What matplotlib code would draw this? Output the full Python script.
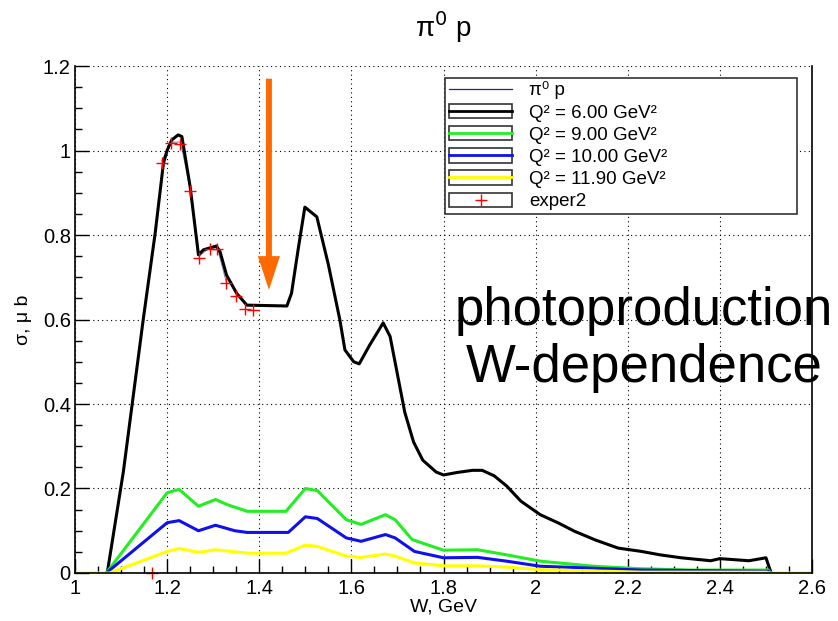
import numpy as np
import matplotlib.pyplot as plt
from matplotlib.lines import Line2D
from matplotlib.patches import Rectangle
from matplotlib.ticker import MultipleLocator

plt.rcParams['font.family'] = ['Liberation Sans', 'DejaVu Sans']

# Q2 = 6.00 GeV^2
w6 = [1.07, 1.105, 1.148, 1.174, 1.192, 1.20, 1.21, 1.224, 1.232, 1.25, 1.268, 1.279,
      1.307, 1.315, 1.329, 1.351, 1.373, 1.46, 1.47, 1.485, 1.499, 1.525, 1.55, 1.575,
      1.586, 1.605, 1.617, 1.64, 1.669, 1.684, 1.70, 1.716, 1.735, 1.755, 1.784, 1.80,
      1.83, 1.863, 1.884, 1.91, 1.937, 1.968, 2.01, 2.05, 2.084, 2.13, 2.179, 2.23,
      2.27, 2.316, 2.38, 2.40, 2.463, 2.50, 2.51]
s6 = [0, 0.24, 0.599, 0.804, 0.97, 1.0, 1.025, 1.037, 1.033, 0.914, 0.753, 0.765,
      0.774, 0.76, 0.705, 0.662, 0.634, 0.632, 0.662, 0.77, 0.866, 0.843, 0.73, 0.599,
      0.528, 0.50, 0.495, 0.54, 0.592, 0.56, 0.47, 0.38, 0.31, 0.267, 0.239, 0.232,
      0.238, 0.243, 0.243, 0.23, 0.206, 0.170, 0.138, 0.118, 0.099, 0.078, 0.059, 0.051,
      0.043, 0.036, 0.029, 0.034, 0.029, 0.036, 0.004]

# Q2 = 9.00
w9 = [1.068, 1.2, 1.226, 1.268, 1.305, 1.33, 1.374, 1.458, 1.5, 1.526, 1.589, 1.621,
      1.674, 1.695, 1.732, 1.8, 1.874, 1.937, 2.01, 2.126, 2.23, 2.337, 2.505, 2.51]
s9 = [0, 0.19, 0.198, 0.158, 0.174, 0.162, 0.146, 0.146, 0.2, 0.195, 0.126, 0.115,
      0.138, 0.126, 0.079, 0.054, 0.055, 0.043, 0.028, 0.016, 0.010, 0.007, 0.007, 0]

# Q2 = 10.00
w10 = [1.068, 1.2, 1.226, 1.268, 1.305, 1.347, 1.374, 1.463, 1.5, 1.526, 1.589, 1.621,
       1.674, 1.695, 1.737, 1.8, 1.874, 1.937, 2.01, 2.23, 2.505, 2.51]
s10 = [0, 0.119, 0.124, 0.100, 0.113, 0.100, 0.096, 0.096, 0.133, 0.129, 0.083, 0.075,
       0.091, 0.083, 0.051, 0.036, 0.037, 0.028, 0.016, 0.007, 0.004, 0]

# Q2 = 11.90
w119 = [1.0, 1.075, 1.2, 1.226, 1.268, 1.305, 1.374, 1.458, 1.5, 1.526, 1.589, 1.621,
        1.674, 1.695, 1.737, 1.8, 1.874, 1.937, 2.01, 2.23, 2.5, 2.51, 2.6]
s119 = [0, 0, 0.051, 0.058, 0.049, 0.055, 0.047, 0.047, 0.066, 0.063, 0.040, 0.037,
        0.045, 0.040, 0.024, 0.017, 0.017, 0.014, 0.008, 0.002, 0.002, 0, 0]

# photoproduction (pi0 p)
w_pi = [1.188, 1.208, 1.229, 1.25, 1.27, 1.292, 1.309, 1.328]
s_pi = [0.975, 1.02, 1.02, 0.91, 0.75, 0.77, 0.77, 0.69]

# exper2
w_exp = [1.167, 1.188, 1.208, 1.229, 1.25, 1.27, 1.292, 1.309, 1.328, 1.35, 1.368, 1.387]
s_exp = [0.0, 0.970, 1.017, 1.015, 0.904, 0.745, 0.767, 0.767, 0.687, 0.656, 0.624, 0.622]

xticklabels = ['1', '1.2', '1.4', '1.6', '1.8', '2', '2.2', '2.4', '2.6']
yticklabels = ['0', '0.2', '0.4', '0.6', '0.8', '1', '1.2']
labels = ['π⁰ p', 'Q² = 6.00 GeV²', 'Q² = 9.00 GeV²',
          'Q² = 10.00 GeV²', 'Q² = 11.90 GeV²', 'exper2']

fig = plt.figure(figsize=(8.38, 6.21), dpi=100)
ax = fig.add_axes([0.0895, 0.0773, 0.8795, 0.8164])

ax.plot(w_pi, s_pi, color='#2a2a80', lw=0.7, alpha=0.6)
ax.plot(w6, s6, color='black', lw=2.2)
ax.plot(w9, s9, color='#22ee22', lw=2.2)
ax.plot(w10, s10, color='#1010ee', lw=2.2)
ax.plot(w119, s119, color='#ffff00', lw=2.2)
ax.plot(w_exp, s_exp, '+', color='red', ms=8, mew=1.0, clip_on=False)

# orange arrow pointing at the flat region
ax.arrow(1.421, 1.17, 0, -0.5, width=0.013, head_width=0.048, head_length=0.08,
         length_includes_head=True, color='#ff6a00', lw=0, zorder=5)

ax.text(2.235, 0.553, 'photoproduction\nW-dependence', fontsize=38, ha='center',
        va='center', linespacing=1.17, clip_on=False, zorder=6)

ax.set_xlim(1, 2.6)
ax.set_ylim(0, 1.2)
ax.set_xticks(np.arange(1, 2.61, 0.2))
ax.set_xticklabels(xticklabels)
ax.set_yticks(np.arange(0, 1.21, 0.2))
ax.set_yticklabels(yticklabels)
ax.xaxis.set_minor_locator(MultipleLocator(0.05))
ax.yaxis.set_minor_locator(MultipleLocator(0.05))
ax.tick_params(which='major', direction='in', length=10, width=1, labelsize=14.5)
ax.tick_params(axis='y', which='major', pad=3)
ax.tick_params(axis='x', which='major', pad=4)
ax.tick_params(which='minor', direction='in', length=5, width=1)
ax.grid(True, which='major', color='black', ls=(0, (1, 3)), lw=0.8)
ax.spines['top'].set_visible(False)
for s in ['left', 'bottom', 'right']:
    ax.spines[s].set_linewidth(1.2)

ax.set_xlabel('W, GeV', fontsize=14, labelpad=1)
ax.set_ylabel('σ, μ b', fontsize=14)
ax.yaxis.set_label_coords(-0.058, 0.5)
ax.set_title('π$^0$ p', fontsize=20, pad=21)

def box():
    return Rectangle((0, 0), 1, 1, fc='white', ec='#333333', lw=1.2)

handles = [Line2D([], [], color='#2020a0', lw=0.9),
           (box(), Line2D([], [], color='black', lw=2)),
           (box(), Line2D([], [], color='#22ee22', lw=2)),
           (box(), Line2D([], [], color='#1010ee', lw=2)),
           (box(), Line2D([], [], color='#ffff00', lw=2)),
           (box(), Line2D([], [], ls='none', marker='+', color='red', ms=9))]
leg = ax.legend(handles, labels, loc='upper left', bbox_to_anchor=(0.502, 0.977, 0.478, 0.0),
                mode='expand', fontsize=13.5, frameon=True, fancybox=False,
                edgecolor='#333333', framealpha=1, handlelength=3.4, handleheight=0.8,
                labelspacing=0.24, borderpad=0.2, handletextpad=0.9, borderaxespad=0)
leg.get_frame().set_linewidth(1.2)

fig.savefig('out.png', dpi=100)
